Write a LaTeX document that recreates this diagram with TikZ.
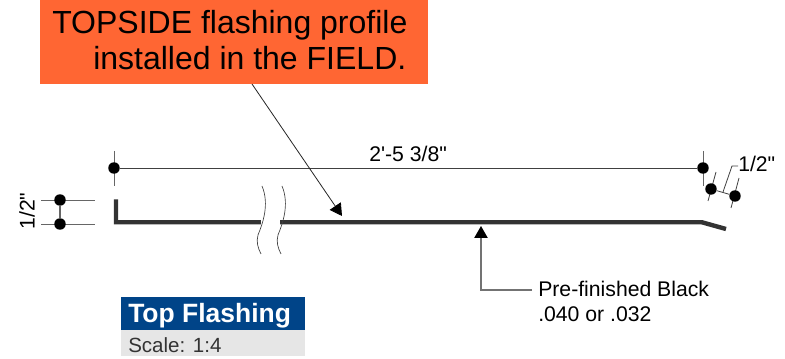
\documentclass[tikz,border=0pt]{standalone}
\usepackage{fontspec}
\setmainfont{Liberation Sans}
\newfontfamily\plainfont{Liberation Sans}
\usetikzlibrary{arrows.meta}
\definecolor{calloutorange}{HTML}{FF6633}
\definecolor{titleblue}{HTML}{004488}
\definecolor{titlegray}{HTML}{E6E6E6}
\definecolor{profilegray}{HTML}{333333}
\tikzset{
  x=0.75pt,y=-0.75pt,
  dimline/.style={draw=black!75,line width=0.6pt},
  extline/.style={draw=black!60,line width=0.6pt},
  dimdot/.style={circle,fill=black,inner sep=0pt,minimum size=8.6pt},
  profile/.style={draw=profilegray,line width=3.3pt,line join=miter},
  breakline/.style={draw=black!75,line width=0.5pt},
  leader/.style={draw=black!55,line width=1pt},
  tiparrow/.style={-{Triangle[length=9pt,width=10pt,fill=black,color=black]}},
  lbl/.style={inner sep=0pt,font=\plainfont\fontsize{15.9pt}{18pt}\selectfont,text=black,anchor=base west},
}
\begin{document}
\begin{tikzpicture}
\useasboundingbox (0,0) rectangle (785,359);
% callout
\node[fill=calloutorange,minimum width=291pt,minimum height=63pt,inner sep=0pt,anchor=north west] (callout) at (40,0) {};
\node[inner sep=0pt,anchor=base west,font=\fontsize{24pt}{26pt}\selectfont] (calloutA) at (52,34) {TOPSIDE flashing profile};
\node[inner sep=0pt,anchor=base west,font=\fontsize{24pt}{26pt}\selectfont] (calloutB) at (93,70) {installed in the FIELD.};
% profile
\coordinate (pA) at (116,199.5);
\coordinate (pB) at (116,222.3);
\coordinate (pC) at (702,222.3);
\coordinate (pD) at (726,229);
\draw[profile] (pA) -- (pB) -- (pC) -- (pD);
% break
\fill[white] (261,216) rectangle (280,228);
\draw[breakline] (262,186) .. controls (270,205) and (262,225) .. (258,235) .. controls (256,242) and (258,248) .. (261,254);
\draw[breakline] (282,186) .. controls (290,205) and (282,225) .. (278,235) .. controls (276,242) and (278,248) .. (281,254);
% coordinates of the dimensions
\coordinate (dLt) at (114,151); \coordinate (dLb) at (114,186);
\coordinate (dRt) at (703,151); \coordinate (dRb) at (703,186);
\coordinate (sAt) at (716,172); \coordinate (sAb) at (708,201);
\coordinate (sBt) at (739,178); \coordinate (sBb) at (731,208);
\coordinate (sM) at (723,192); \coordinate (sK) at (732,166); \coordinate (sE) at (738,166);
\coordinate (lAl) at (41,200); \coordinate (lAr) at (95,200);
\coordinate (lBl) at (41,224); \coordinate (lBr) at (95,224);
% overall dimension
\draw[extline] (dLt) -- (dLb);
\draw[extline] (dRt) -- (dRb);
\node[dimdot] (dL) at (114,168) {};
\node[dimdot] (dR) at (703,168) {};
\draw[dimline] (dL) -- (dR);
\node[lbl] (dimtext) at (369,162) {2'-5 3/8"};
% right small dimension
\draw[dimline] (sAt) -- (sAb);
\draw[dimline] (sBt) -- (sBb);
\node[dimdot] (sA) at (711,189) {};
\node[dimdot] (sB) at (735,196) {};
\draw[dimline] (sA) -- (sB);
\draw[dimline] (sM) -- (sK) -- (sE);
\node[lbl] (smalltext) at (738,172) {1/2"};
% left dimension
\draw[extline] (lAl) -- (lAr);
\draw[extline] (lBl) -- (lBr);
\node[dimdot] (lA) at (60,200) {};
\node[dimdot] (lB) at (60,224) {};
\draw[extline,line width=1pt] (lA) -- (lB);
\node[rotate=90,inner sep=0pt,font=\plainfont\fontsize{15.9pt}{18pt}\selectfont] (lefttext) at (27,211) {1/2"};
% leaders
\coordinate (calloutTail) at (252,84);
\coordinate (calloutTip) at (342,216);
\draw[tiparrow,draw=black!85,line width=0.6pt] (calloutTail) -- (calloutTip);
\coordinate (noteTip) at (481,226);
\coordinate (noteKnee) at (481,290);
\coordinate (noteEnd) at (532,290);
\draw[leader,tiparrow] (noteEnd) -- (noteKnee) -- (noteTip);
\node[lbl] (noteA) at (538,297) {Pre-finished Black};
\node[lbl] (noteB) at (538,321.7) {.040 or .032};
% title block
\fill[titleblue] (121,297) rectangle (305,330);
\fill[titlegray] (121,330) rectangle (305,356);
\node[inner sep=0pt,anchor=base west,text=white,font=\bfseries\fontsize{19.85pt}{22pt}\selectfont] (title) at (128,322.5) {Top Flashing};
\node[inner sep=0pt,anchor=base west,text=black!80,font=\fontsize{15.4pt}{17pt}\selectfont] (scale) at (128,352.5) {Scale: 1:4};
\end{tikzpicture}
\end{document}
